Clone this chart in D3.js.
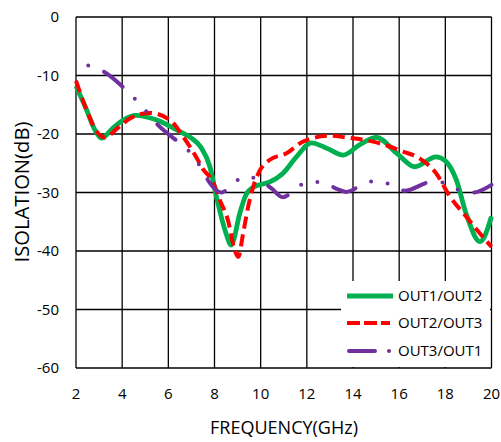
<!DOCTYPE html>
<html><head><meta charset="utf-8">
<script src="https://cdn.jsdelivr.net/npm/d3@7"></script>
<style>body{margin:0;background:#fff}svg{display:block}</style>
</head><body>
<svg id="c" width="501" height="442"></svg>
<script>
const xTicks = [2,4,6,8,10,12,14,16,18,20];
const yTicks = [0,-10,-20,-30,-40,-50,-60];
const seriesNames = ["OUT1/OUT2","OUT2/OUT3","OUT3/OUT1"];
const out12 = [[2,-11.8],[2.46,-15.9],[2.82,-19.3],[3.1,-20.7],[3.6,-19.0],[4.05,-17.6],[4.6,-16.8],[5.5,-17.6],[6.5,-19.6],[7.0,-20.7],[7.4,-22.2],[7.8,-25.6],[8.1,-31.0],[8.5,-37.0],[8.72,-39.0],[9.1,-33.5],[9.35,-30.5],[9.68,-29.1],[10.4,-28.2],[10.97,-26.7],[11.55,-23.9],[12.2,-21.5],[12.9,-22.5],[13.57,-23.6],[14.3,-21.8],[15.02,-20.6],[15.9,-23.3],[16.68,-25.6],[17.6,-23.9],[18.0,-24.6],[18.48,-27.9],[18.9,-33.6],[19.5,-38.4],[20,-34.1]];
const out23 = [[2,-10.9],[2.46,-15.9],[2.85,-19.3],[3.26,-20.6],[3.8,-19.0],[4.4,-17.2],[5.2,-16.4],[6.07,-17.6],[6.65,-20.5],[7.2,-23.9],[7.5,-26.0],[7.94,-28.2],[8.2,-31.0],[8.6,-35.0],[8.85,-39.5],[9.03,-41.0],[9.24,-37.0],[9.46,-32.4],[9.68,-29.0],[9.97,-26.2],[10.4,-24.4],[11.12,-23.3],[11.84,-21.3],[13.0,-20.3],[13.7,-20.6],[14.87,-21.3],[16.17,-23.0],[16.9,-24.2],[17.6,-26.7],[18.2,-30.7],[18.9,-34.1],[19.5,-37.0],[20,-39.3]];
const out31 = [[2.53,-8.3],[3.18,-9.3],[4.12,-12.3],[4.63,-14.3],[5.1,-16.4],[5.56,-18.5],[6.5,-21.6],[7.05,-23.6],[7.44,-25.9],[7.8,-28.4],[8.3,-30.0],[8.77,-28.7],[9.29,-27.2],[9.94,-27.9],[10.47,-29.3],[10.95,-30.8],[11.48,-29.6],[12.0,-28.2],[12.66,-28.2],[13.3,-29.4],[13.7,-29.9],[14.4,-28.7],[15.0,-28.0],[15.67,-28.7],[16.24,-29.7],[17.4,-28.2],[18.05,-28.4],[18.65,-29.7],[19.2,-30.0],[20,-28.7]];

const svg = d3.select("#c");
const FONT = "'Open Sans', sans-serif";
const x = d3.scaleLinear().domain([2,20]).range([76,491.5]);
const y = d3.scaleLinear().domain([-60,0]).range([368,17]);

// grid
const g = svg.append("g");
g.selectAll(".vx").data(xTicks).enter().append("line")
  .attr("x1",d=>x(d)).attr("x2",d=>x(d)).attr("y1",y(0)).attr("y2",y(-60))
  .attr("stroke","#000").attr("stroke-width",1.3);
g.selectAll(".hy").data(yTicks).enter().append("line")
  .attr("x1",x(2)).attr("x2",x(20)).attr("y1",d=>y(d)).attr("y2",d=>y(d))
  .attr("stroke","#000").attr("stroke-width",1.3);

const line = d3.line().x(d=>x(d[0])).y(d=>y(d[1])).curve(d3.curveMonotoneX);
const colors = ["#00B050","#FF0000","#7030A0"];

svg.append("path").attr("d",line(out12)).attr("fill","none").attr("stroke",colors[0]).attr("stroke-width",4.8);
svg.append("path").attr("d",line(out23)).attr("fill","none").attr("stroke",colors[1]).attr("stroke-width",4)
  .attr("stroke-dasharray","12 6");
svg.append("path").attr("d",line(out31)).attr("fill","none").attr("stroke",colors[2]).attr("stroke-width",4)
  .attr("stroke-linecap","round").attr("stroke-dasharray","24 17 0 17 0 17").attr("stroke-dashoffset",58);

// legend
const lg = svg.append("g");
lg.append("rect").attr("x",341).attr("y",281).attr("width",149).attr("height",86).attr("fill","#fff");
const rows = [296,323,351];
lg.append("line").attr("x1",347).attr("x2",393).attr("y1",rows[0]).attr("y2",rows[0]).attr("stroke",colors[0]).attr("stroke-width",4.8);
lg.append("line").attr("x1",347).attr("x2",390).attr("y1",rows[1]).attr("y2",rows[1]).attr("stroke",colors[1]).attr("stroke-width",4).attr("stroke-dasharray","13 4");
lg.append("line").attr("x1",349).attr("x2",391).attr("y1",rows[2]).attr("y2",rows[2]).attr("stroke",colors[2]).attr("stroke-width",4).attr("stroke-linecap","round").attr("stroke-dasharray","26 14 0 100");
lg.selectAll("text").data(seriesNames).enter().append("text")
  .attr("x",398).attr("y",(d,i)=>rows[i]).attr("dy","0.35em")
  .attr("font-family",FONT).attr("font-size",15).attr("fill","#000").text(d=>d);

// tick labels
svg.selectAll(".xl").data(xTicks).enter().append("text")
  .attr("x",d=>x(d)).attr("y",394).attr("dy","0.35em").attr("text-anchor","middle")
  .attr("font-family",FONT).attr("font-size",15).text(d=>d);
svg.selectAll(".yl").data(yTicks).enter().append("text")
  .attr("x",59).attr("y",d=>y(d)).attr("dy","0.35em").attr("text-anchor","end")
  .attr("font-family",FONT).attr("font-size",15).text(d=>d);

// titles
function fit(t, target){ const w=t.node().getComputedTextLength(); t.attr("font-size",18*target/w); }
const xt = svg.append("text").attr("x",284).attr("y",428).attr("dy","0.35em").attr("text-anchor","middle")
  .attr("font-family",FONT).attr("font-size",18).text("FREQUENCY(GHz)");
fit(xt,148);
const yt = svg.append("text").attr("transform","translate(22,192) rotate(-90)").attr("dy","0.35em").attr("text-anchor","middle")
  .attr("font-family",FONT).attr("font-size",18).text("ISOLATION(dB)");
fit(yt,141);
</script>
</body></html>
